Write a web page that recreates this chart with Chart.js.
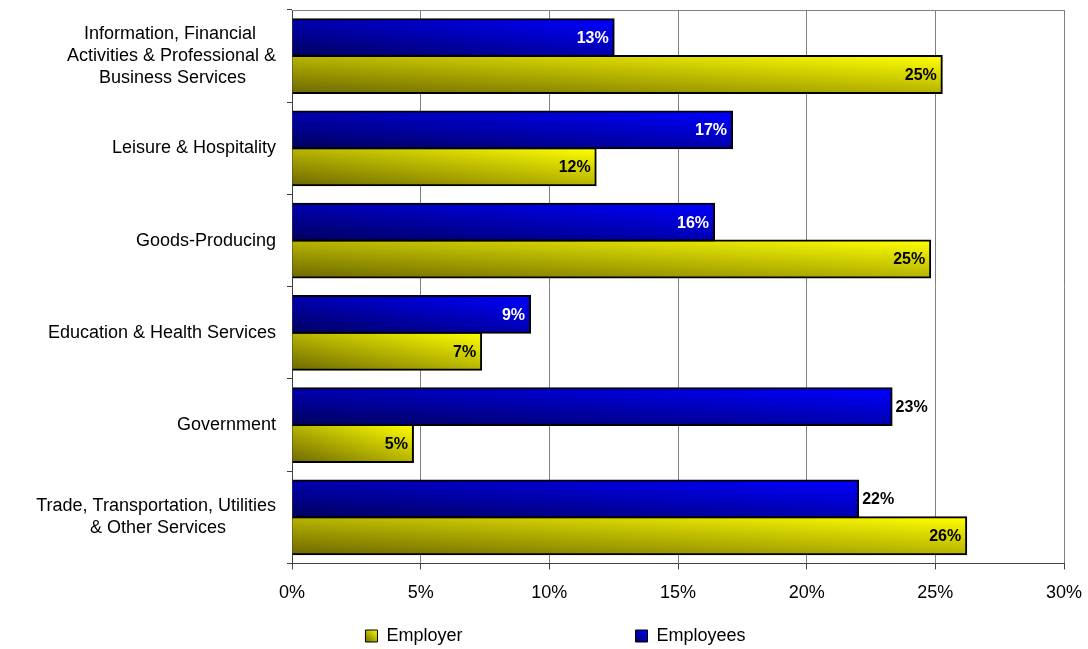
<!DOCTYPE html>
<html>
<head>
<meta charset="utf-8">
<title>Employer and employees by industry</title>
<script src="https://cdn.jsdelivr.net/npm/chart.js@4.4.0/dist/chart.umd.min.js"></script>
<style>
  body { margin: 0; background: #fff; }
  .wrap { width: 1088px; height: 649px; }
</style>
</head>
<body>
<div class="wrap"><canvas id="chart_share"></canvas></div>
<script>
var FONT = "'Liberation Sans', Arial, Helvetica, sans-serif";

var industries = [
  ['Information, Financial', 'Activities & Professional &', 'Business Services'],
  'Leisure & Hospitality',
  'Goods-Producing',
  'Education & Health Services',
  'Government',
  ['Trade, Transportation, Utilities', '& Other Services']
];
var employees = [12.5, 17.1, 16.4, 9.25, 23.3, 22.0];
var employer  = [25.25, 11.8, 24.8, 7.35, 4.7, 26.2];
var xTicks = [0, 5, 10, 15, 20, 25, 30];

// these two employee labels sit past the end of the bar
var outsideLabels = { 'Employees': [4, 5] };

var PLOT_LEFT = 292;
var LEGEND_LEFT = 47;
var LEGEND_STEP = 271;   // distance between the two legend boxes

var measure = document.createElement('canvas').getContext('2d');
function textWidth(s, font) {
  measure.font = font;
  return measure.measureText(s).width;
}

// labels stay right aligned but the lines of one label are centred on each other
function centreLines(label) {
  if (!Array.isArray(label)) return label;
  var font = '18px ' + FONT;
  var space = textWidth(' ', font);
  var widest = Math.max.apply(null, label.map(function (l) { return textWidth(l, font); }));
  return label.map(function (l) {
    var n = Math.round((widest - textWidth(l, font)) / 2 / space);
    return l + ' '.repeat(n);
  });
}

// two colour gradient, dark in the lower left corner, light in the upper right
function diagonalFill(ctx, left, top, right, bottom, dark, light) {
  var w = Math.max(right - left, 1), h = Math.max(bottom - top, 1);
  var a = 1 / (2 * w), b = -1 / (2 * h), d = a * a + b * b;
  var g = ctx.createLinearGradient(left, bottom, left + a / d, bottom + b / d);
  g.addColorStop(0, dark);
  g.addColorStop(1, light);
  return g;
}

function barFill(dark, light) {
  return function (c) {
    if (c.type !== 'data' || !c.chart.chartArea) return light;
    var x = c.chart.scales.x, y = c.chart.scales.y;
    var band = Math.abs(y.getPixelForValue(1) - y.getPixelForValue(0)) * 0.8 / 2;
    var mid = y.getPixelForValue(c.dataIndex) + (c.datasetIndex === 0 ? -band / 2 : band / 2);
    return diagonalFill(c.chart.ctx, x.getPixelForValue(0), mid - band / 2,
      x.getPixelForValue(c.raw), mid + band / 2, dark, light);
  };
}

var barLabels = {
  id: 'barLabels',
  afterDatasetsDraw: function (chart) {
    var ctx = chart.ctx;
    ctx.save();
    ctx.font = 'bold 16px ' + FONT;
    ctx.textBaseline = 'middle';
    chart.data.datasets.forEach(function (ds, di) {
      var outside = outsideLabels[ds.label] || [];
      chart.getDatasetMeta(di).data.forEach(function (bar, i) {
        var txt = Math.round(ds.data[i]) + '%';
        if (outside.indexOf(i) >= 0) {
          ctx.textAlign = 'left';
          ctx.fillStyle = '#000';
          ctx.fillText(txt, bar.x + 4, bar.y + 1);
        } else {
          ctx.textAlign = 'right';
          ctx.fillStyle = ds.labelColor;
          ctx.fillText(txt, bar.x - 5, bar.y + 1);
        }
      });
    });
    ctx.restore();
  }
};

// top edge of the plot area
var plotFrame = {
  id: 'plotFrame',
  beforeDatasetsDraw: function (chart) {
    var a = chart.chartArea, ctx = chart.ctx;
    ctx.save();
    ctx.strokeStyle = '#808080';
    ctx.lineWidth = 1;
    ctx.beginPath();
    ctx.moveTo(a.left, Math.round(a.top) + 0.5);
    ctx.lineTo(a.right, Math.round(a.top) + 0.5);
    ctx.stroke();
    ctx.restore();
  }
};

// legend sits under the plot, boxes filled like the bars
var legendBoxes = {
  id: 'legendBoxes',
  afterLayout: function (chart) {
    chart.legend.left = LEGEND_LEFT;
  },
  beforeDraw: function (chart) {
    var lg = chart.legend;
    lg.legendItems.forEach(function (item, i) {
      var hb = lg.legendHitBoxes[i];
      var ds = chart.data.datasets[item.datasetIndex];
      if (hb) item.fillStyle = diagonalFill(chart.ctx, hb.left, hb.top + 3, hb.left + 12, hb.top + 15, ds.dark, ds.light);
    });
  }
};

Chart.defaults.font.family = FONT;
Chart.defaults.color = '#000';

var cha = new Chart(document.getElementById('chart_share'), {
  type: 'bar',
  data: {
    labels: industries.map(centreLines),
    datasets: [{
      label: 'Employees',
      data: employees,
      dark: '#000060', light: '#0000ff', labelColor: '#fff',
      backgroundColor: barFill('#000060', '#0000ff')
    }, {
      label: 'Employer',
      data: employer,
      dark: '#6e6a00', light: '#ffff00', labelColor: '#000',
      backgroundColor: barFill('#6e6a00', '#ffff00')
    }]
  },
  options: {
    indexAxis: 'y',
    responsive: true,
    maintainAspectRatio: false,
    animation: false,
    events: [],
    categoryPercentage: 0.8,
    barPercentage: 1.0,
    elements: {
      bar: { borderColor: '#000', borderWidth: 2, inflateAmount: 1 }
    },
    layout: { padding: { top: 10, left: 0, right: 24, bottom: 0 } },
    scales: {
      x: {
        type: 'linear',
        min: xTicks[0],
        max: xTicks[xTicks.length - 1],
        afterBuildTicks: function (s) {
          s.ticks = xTicks.map(function (v) { return { value: v }; });
        },
        afterFit: function (s) {
          s.height = 6 + 13 + 21.6;
          s.paddingLeft = 0;
          s.paddingRight = 0;
        },
        grid: { color: '#808080', tickColor: '#404040', tickLength: 6 },
        border: { color: '#404040' },
        ticks: {
          padding: 13,
          color: '#000',
          font: { size: 18 },
          callback: function (v) { return v + '%'; }
        }
      },
      y: {
        type: 'category',
        grid: { drawOnChartArea: false, tickLength: 5, tickColor: '#404040' },
        border: { color: '#404040' },
        ticks: { padding: 11, color: '#000', font: { size: 18 }, autoSkip: false },
        afterFit: function (s) {
          s.width = PLOT_LEFT;
          s.paddingTop = 0;
          s.paddingBottom = 0;
        }
      }
    },
    plugins: {
      tooltip: { enabled: false },
      legend: {
        position: 'bottom',
        maxHeight: 45,
        labels: {
          boxWidth: 12,
          boxHeight: 12,
          padding: 23,
          color: '#000',
          font: { size: 18 },
          generateLabels: function (chart) {
            var items = Chart.defaults.plugins.legend.labels.generateLabels(chart).reverse();
            var font = '18px ' + FONT;
            items.forEach(function (item, i) {
              item.strokeStyle = '#000';
              item.lineWidth = 1;
              if (i === 0) {
                var room = LEGEND_STEP - 12 - 9 - 23 - textWidth(item.text, font);
                item.text += ' '.repeat(Math.max(0, Math.round(room / textWidth(' ', font))));
              }
            });
            return items;
          }
        }
      }
    }
  },
  plugins: [plotFrame, barLabels, legendBoxes]
});
</script>
</body>
</html>
